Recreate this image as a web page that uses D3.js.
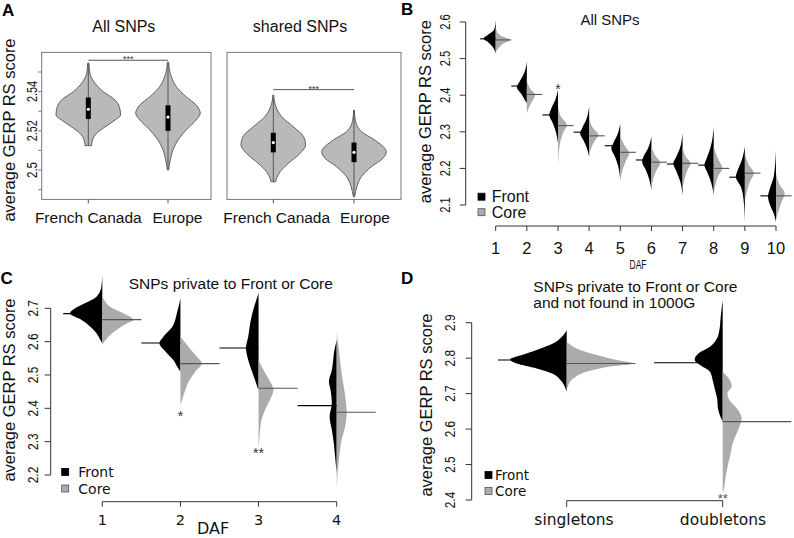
<!DOCTYPE html>
<html><head><meta charset="utf-8">
<script src="https://cdn.jsdelivr.net/npm/d3@7"></script>
<style>body{margin:0;background:#fff}svg{display:block}</style>
</head><body>
<script>
// ===================== DATA =====================
// Panel A : violin plots
const aGroups = ["French Canada", "Europe"];
const aTitles = ["All SNPs", "shared SNPs"];
// profiles: [GERP value, relative density]
const aAllProfiles = [
  [[2.5545,0.02],[2.5493,0.05],[2.5442,0.21],[2.540,0.46],[2.5357,0.83],[2.5323,0.96],[2.528,1.0],[2.5255,0.83],[2.522,0.52],[2.5187,0.26],[2.5153,0.13],[2.5124,0.10]],
  [[2.555,0.02],[2.5493,0.07],[2.5425,0.26],[2.5374,0.56],[2.5332,0.87],[2.5289,1.0],[2.5255,0.87],[2.5204,0.56],[2.5153,0.31],[2.5102,0.15],[2.5051,0.07],[2.500,0.02]]
];
const aSharedProfiles = [
  [[2.5383,0.01],[2.534,0.05],[2.5272,0.26],[2.5221,0.62],[2.517,0.94],[2.5128,1.0],[2.5085,0.83],[2.5034,0.47],[2.4991,0.21],[2.4957,0.10],[2.494,0.07]],
  [[2.5306,0.01],[2.5255,0.04],[2.5196,0.23],[2.5153,0.64],[2.5111,0.95],[2.5094,1.0],[2.506,0.9],[2.5017,0.54],[2.4966,0.23],[2.4915,0.09],[2.4864,0.02]]
];
const aAllQ1 = [2.526, 2.520], aAllMedian = [2.531, 2.527], aAllQ3 = [2.537, 2.533];
const aSharedQ1 = [2.509, 2.504], aSharedMedian = [2.514, 2.509], aSharedQ3 = [2.519, 2.514];
const aSigLevel = [2.556, 2.541];
const aSigLabel = "***";
const aYTicks = [2.49, 2.50, 2.51, 2.52, 2.53, 2.54, 2.55];
const aYTickLabels = [2.50, 2.52, 2.54];

// Panel B : bean plots by DAF (all SNPs)
const bDAF = [1,2,3,4,5,6,7,8,9,10];
const bFrontMean = [2.554, 2.425, 2.346, 2.299, 2.262, 2.223, 2.212, 2.209, 2.176, 2.125];
const bCoreMean  = [2.551, 2.402, 2.317, 2.289, 2.244, 2.217, 2.214, 2.200, 2.187, 2.125];
const bFrontProfiles = [
  [[2.605,0],[2.578,0.12],[2.564,0.58],[2.555,0.86],[2.546,0.56],[2.533,0.23],[2.514,0]],
  [[2.492,0],[2.46,0.19],[2.437,0.51],[2.422,0.70],[2.405,0.42],[2.387,0.14],[2.378,0]],
  [[2.414,0],[2.387,0.19],[2.364,0.47],[2.346,0.61],[2.323,0.35],[2.296,0.12],[2.269,0]],
  [[2.369,0],[2.332,0.21],[2.310,0.49],[2.296,0.63],[2.278,0.42],[2.259,0.19],[2.232,0]],
  [[2.323,0],[2.291,0.21],[2.269,0.49],[2.255,0.63],[2.232,0.37],[2.205,0.14],[2.168,0]],
  [[2.287,0],[2.255,0.23],[2.232,0.56],[2.218,0.65],[2.196,0.40],[2.168,0.14],[2.141,0]],
  [[2.296,0],[2.250,0.23],[2.228,0.49],[2.214,0.65],[2.191,0.42],[2.164,0.16],[2.127,0]],
  [[2.314,0],[2.259,0.21],[2.228,0.49],[2.209,0.65],[2.187,0.42],[2.159,0.16],[2.127,0]],
  [[2.259,0],[2.223,0.21],[2.196,0.49],[2.177,0.63],[2.150,0.28],[2.114,0.09],[2.054,0]],
  [[2.250,0],[2.177,0.16],[2.146,0.42],[2.123,0.56],[2.100,0.42],[2.077,0.16],[2.054,0]]
];
const bCoreProfiles = [
  [[2.583,0],[2.564,0.30],[2.551,1.0],[2.542,0.56],[2.528,0.19],[2.519,0]],
  [[2.442,0],[2.419,0.21],[2.401,0.58],[2.382,0.35],[2.364,0.12],[2.351,0]],
  [[2.369,0],[2.341,0.21],[2.319,0.61],[2.296,0.35],[2.269,0.14],[2.205,0]],
  [[2.341,0],[2.314,0.21],[2.291,0.65],[2.273,0.35],[2.255,0.14],[2.237,0]],
  [[2.287,0],[2.264,0.28],[2.241,0.63],[2.223,0.42],[2.196,0.16],[2.164,0]],
  [[2.259,0],[2.237,0.23],[2.214,0.61],[2.196,0.37],[2.173,0.14],[2.150,0]],
  [[2.259,0],[2.232,0.23],[2.214,0.56],[2.196,0.35],[2.168,0.12],[2.146,0]],
  [[2.259,0],[2.228,0.28],[2.200,0.61],[2.182,0.35],[2.155,0.12],[2.132,0]],
  [[2.241,0],[2.209,0.28],[2.187,0.63],[2.164,0.35],[2.136,0.14],[2.114,0]],
  [[2.187,0],[2.159,0.21],[2.132,0.61],[2.105,0.35],[2.077,0.12],[2.059,0]]
];
const bSig = ["", "", "*", "", "", "", "", "", "", ""];
const bSigLevel = 2.425;
const bYTicks = [2.1, 2.2, 2.3, 2.4, 2.5, 2.6];

// Panel C : SNPs private to Front or Core
const cDAF = [1,2,3,4];
const cFrontMean = [2.684, 2.596, 2.581, 2.408];
const cCoreMean  = [2.666, 2.534, 2.460, 2.388];
const cFrontProfiles = [
  [[2.80,0],[2.765,0.03],[2.735,0.18],[2.715,0.54],[2.70,0.84],[2.685,1.0],[2.665,0.64],[2.645,0.37],[2.625,0.18],[2.605,0.06],[2.595,0]],
  [[2.73,0],[2.685,0.11],[2.645,0.25],[2.615,0.53],[2.595,0.65],[2.57,0.46],[2.545,0.22],[2.52,0.07],[2.51,0]],
  [[2.746,0],[2.70,0.15],[2.665,0.24],[2.615,0.32],[2.581,0.39],[2.545,0.32],[2.515,0.22],[2.485,0.11],[2.465,0.04],[2.455,0]],
  [[2.605,0],[2.575,0.07],[2.515,0.15],[2.48,0.24],[2.455,0.19],[2.415,0.15],[2.375,0.22],[2.335,0.15],[2.295,0.09],[2.255,0.05],[2.206,0]]
];
const cCoreProfiles = [
  [[2.74,0],[2.725,0.06],[2.705,0.24],[2.685,0.65],[2.665,0.96],[2.655,0.77],[2.635,0.44],[2.615,0.19],[2.60,0.06],[2.59,0]],
  [[2.615,0],[2.585,0.25],[2.56,0.46],[2.535,0.66],[2.51,0.46],[2.485,0.28],[2.455,0.15],[2.425,0.05],[2.41,0]],
  [[2.545,0],[2.515,0.15],[2.485,0.33],[2.455,0.46],[2.425,0.35],[2.395,0.20],[2.365,0.09],[2.326,0.04],[2.296,0.015],[2.275,0]],
  [[2.626,0],[2.566,0.08],[2.506,0.15],[2.446,0.25],[2.386,0.31],[2.345,0.26],[2.305,0.15],[2.265,0.09],[2.164,0]]
];
const cSig = ["", "*", "**", ""];
const cSigLevel = [null, 2.386, 2.275, null];
const cYTicks = [2.2, 2.3, 2.4, 2.5, 2.6, 2.7];

// Panel D : private and not in 1000G
const dCats = ["singletons", "doubletons"];
const dFrontMean = [2.795, 2.787];
const dCoreMean  = [2.785, 2.621];
const dFrontProfiles = [
  [[2.879,0],[2.86,0.075],[2.842,0.2],[2.823,0.45],[2.809,0.67],[2.797,0.85],[2.785,0.75],[2.771,0.45],[2.757,0.22],[2.738,0.09],[2.72,0.03],[2.705,0]],
  [[2.964,0],[2.917,0.03],[2.879,0.05],[2.851,0.10],[2.832,0.19],[2.814,0.36],[2.795,0.42],[2.781,0.34],[2.762,0.19],[2.738,0.15],[2.71,0.115],[2.682,0.08],[2.663,0.075],[2.64,0.045],[2.621,0]]
];
const dCoreProfiles = [
  [[2.846,0],[2.823,0.2],[2.809,0.45],[2.795,0.75],[2.785,1.0],[2.776,0.64],[2.762,0.3],[2.743,0.1],[2.724,0.025],[2.71,0]],
  [[2.762,0],[2.738,0.11],[2.72,0.135],[2.701,0.07],[2.682,0.10],[2.659,0.21],[2.631,0.285],[2.617,0.27],[2.588,0.21],[2.56,0.15],[2.532,0.12],[2.504,0.085],[2.466,0.045],[2.428,0.015],[2.419,0]]
];
const dSig = ["", "**"];
const dSigLevel = 2.414;
const dYTicks = [2.4, 2.5, 2.6, 2.7, 2.8, 2.9];

const legendLabels = ["Front", "Core"];
const yTitle = "average GERP RS score";

// ===================== DRAWING =====================
const svg = d3.select("body").append("svg").attr("width", 794).attr("height", 538);
const SANS = "'Liberation Sans', Arial, Helvetica, sans-serif";
const DJ = "'DejaVu Sans', sans-serif";
const FRONT = "#000", CORE = "#ababab", CORELINE = "#555", AXIS = "#333";

function text(x, y, s, o = {}) {
  const t = svg.append("text").attr("x", x).attr("y", y).text(s)
    .attr("font-family", o.font || SANS).attr("font-size", o.size || 14)
    .attr("fill", o.fill || "#111").attr("text-anchor", o.anchor || "middle");
  if (o.weight) t.attr("font-weight", o.weight);
  if (o.len) t.attr("textLength", o.len).attr("lengthAdjust", "spacingAndGlyphs");
  return t;
}
function vtext(x, y, s, o = {}) {
  return text(0, 0, s, o).attr("transform", `translate(${x},${y}) rotate(-90)`);
}
function line(x1, y1, x2, y2, c = AXIS, w = 1) {
  svg.append("line").attr("x1", x1).attr("y1", y1).attr("x2", x2).attr("y2", y2)
    .attr("stroke", c).attr("stroke-width", w);
}
function yAxis(x, yS, ticks, labels, labelX, o) {
  line(x, yS(d3.min(ticks)), x, yS(d3.max(ticks)));
  ticks.forEach(v => line(x - 6, yS(v), x, yS(v)));
  labels.forEach(v => vtext(labelX, yS(v), String(+v.toFixed(2)), o));
}
function xAxis(y, xS, ticks, tickLen = 6) {
  line(xS(ticks[0]), y, xS(ticks[ticks.length - 1]), y);
  ticks.forEach(v => line(xS(v), y, xS(v), y + tickLen));
}
function halfBean(xc, side, prof, yS, wS, fill) {
  const area = d3.area().curve(d3.curveMonotoneY)
    .y(d => yS(d[0])).x0(xc).x1(d => xc + side * wS(d[1]));
  svg.append("path").datum(prof).attr("d", area).attr("fill", fill).attr("stroke", "none");
}
function legend(x, y0, dy, tx, size, font) {
  legendLabels.forEach((l, i) => {
    svg.append("rect").attr("x", x).attr("y", y0 + i * dy - 3.5).attr("width", 7).attr("height", 7)
      .attr("fill", i === 0 ? FRONT : CORE).attr("stroke", i === 0 ? "#000" : "#555").attr("stroke-width", 0.8);
    text(tx, y0 + i * dy + size * 0.36, l, { anchor: "start", size: size, font: font });
  });
}

// ---------- Panel A ----------
text(2, 16, "A", { anchor: "start", size: 17, weight: "bold", fill: "#000" });
const yA = d3.scaleLinear().domain([2.485, 2.56]).range([199.4, 52.4]);
const wA = d3.scaleLinear().domain([0, 1]).range([0, 32.3]);
const aPanels = [
  { title: aTitles[0], prof: aAllProfiles, q1: aAllQ1, med: aAllMedian, q3: aAllQ3, sig: aSigLevel[0], left: 41.7, right: 211, range: [88.3, 168], titleX: 123.8, lab: [88.3, 177.5] },
  { title: aTitles[1], prof: aSharedProfiles, q1: aSharedQ1, med: aSharedMedian, q3: aSharedQ3, sig: aSigLevel[1], left: 227, right: 401, range: [273.3, 354], titleX: 300, lab: [276.7, 365] }
];
aPanels.forEach(p => {
  const xS = d3.scalePoint().domain(aGroups).range(p.range);
  svg.append("rect").attr("x", p.left).attr("y", yA(2.56)).attr("width", p.right - p.left)
    .attr("height", yA(2.485) - yA(2.56)).attr("fill", "none").attr("stroke", "#777").attr("stroke-width", 1);
  text(p.titleX, 32, p.title, { size: 16 });
  aGroups.forEach((g, i) => {
    const cx = xS(g);
    const prof = p.prof[i];
    const area = d3.area().curve(d3.curveMonotoneY).y(d => yA(d[0]))
      .x0(d => cx - wA(d[1])).x1(d => cx + wA(d[1]));
    svg.append("path").datum(prof).attr("d", area).attr("fill", "#b9b9b9")
      .attr("stroke", "#555").attr("stroke-width", 0.9);
    line(cx, yA(prof[0][0]), cx, yA(prof[prof.length - 1][0]), "#555", 1);
    svg.append("rect").attr("x", cx - 2.5).attr("y", yA(p.q3[i])).attr("width", 5)
      .attr("height", yA(p.q1[i]) - yA(p.q3[i])).attr("fill", "#000");
    svg.append("circle").attr("cx", cx).attr("cy", yA(p.med[i])).attr("r", 1.6).attr("fill", "#fff");
    line(cx, yA(2.485), cx, yA(2.485) + 4, "#555");
    text(p.lab[i], 222.7, g, { size: 15.5 });
  });
  line(xS(aGroups[0]), yA(p.sig), xS(aGroups[1]), yA(p.sig), "#555", 1);
  text((xS(aGroups[0]) + xS(aGroups[1])) / 2, yA(p.sig) + 2, aSigLabel, { size: 9, fill: "#333" });
});
// y axis of A (left frame)
aYTicks.forEach(v => line(38.3, yA(v), 41.7, yA(v), "#777"));
aYTickLabels.forEach(v => vtext(36.5, yA(v), String(+v.toFixed(2)), { size: 14, len: v === 2.5 ? 16 : 21 }));
vtext(14.5, 130, yTitle, { size: 16.5 });

// ---------- Panel B ----------
text(401, 15, "B", { anchor: "start", size: 17, weight: "bold", fill: "#000" });
const xB = d3.scaleLinear().domain([1, 10]).range([495.7, 776]);
const yB = d3.scaleLinear().domain([2.1, 2.6]).range([205, 22]);
const wB = d3.scaleLinear().domain([0, 1]).range([0, 14.3]);
text(610, 25, "All SNPs", { size: 15 });
bDAF.forEach((k, i) => {
  halfBean(xB(k), -1, bFrontProfiles[i], yB, wB, FRONT);
  halfBean(xB(k), 1, bCoreProfiles[i], yB, wB, CORE);
});
bDAF.forEach((k, i) => {
  line(xB(k - 0.5), yB(bFrontMean[i]), xB(k), yB(bFrontMean[i]), FRONT, 1.1);
  line(xB(k), yB(bCoreMean[i]), xB(k + 0.5), yB(bCoreMean[i]), CORELINE, 1.1);
  if (bSig[i]) text(xB(k), yB(bSigLevel) + 8, bSig[i], { size: 14, fill: "#333" });
});
yAxis(465.7, yB, bYTicks, bYTicks, 450, { size: 15, len: 15.5 });
vtext(431, 111.7, yTitle, { size: 16.5 });
xAxis(226, xB, bDAF, 5);
bDAF.forEach(k => text(xB(k), 254, String(k), { size: 16.5 }));
text(638, 268.5, "DAF", { size: 12, len: 17 });
legend(478, 196.7, 15.5, 491.7, 16, SANS);

// ---------- Panel C ----------
text(0.5, 283.5, "C", { anchor: "start", size: 17, weight: "bold", fill: "#000" });
const xC = d3.scaleLinear().domain([1, 4]).range([102.3, 336.7]);
const yC = d3.scaleLinear().domain([2.2, 2.7]).range([475, 308.3]);
const wC = d3.scaleLinear().domain([0, 1]).range([0, 32.3]);
text(230.8, 288.5, "SNPs private to Front or Core", { size: 15.5 });
cDAF.forEach((k, i) => {
  halfBean(xC(k), -1, cFrontProfiles[i], yC, wC, FRONT);
  halfBean(xC(k), 1, cCoreProfiles[i], yC, wC, CORE);
});
cDAF.forEach((k, i) => {
  line(xC(k - 0.5), yC(cFrontMean[i]), xC(k), yC(cFrontMean[i]), FRONT, 1.1);
  line(xC(k), yC(cCoreMean[i]), xC(k + 0.5), yC(cCoreMean[i]), CORELINE, 1.1);
  if (cSig[i]) text(xC(k), yC(cSigLevel[i]) + 8, cSig[i], { size: 14, fill: "#333" });
});
yAxis(50.7, yC, cYTicks, cYTicks, 38.3, { size: 14, len: 16.5 });
vtext(15, 390, yTitle, { size: 16.5 });
xAxis(501.7, xC, cDAF, 5);
cDAF.forEach(k => text(xC(k), 525, String(k), { size: 14.5, font: DJ }));
text(213, 534, "DAF", { size: 16, font: DJ });
legend(61.7, 472, 16.5, 78.3, 14, DJ);

// ---------- Panel D ----------
text(401, 283.5, "D", { anchor: "start", size: 17, weight: "bold", fill: "#000" });
const xD = d3.scalePoint().domain(dCats).range([566.7, 722.7]);
const dStep = 156;
const yD = d3.scaleLinear().domain([2.4, 2.9]).range([500, 322.7]);
const wD = d3.scaleLinear().domain([0, 1]).range([0, 66.7]);
text(533.3, 291.7, "SNPs private to Front or Core", { size: 15.5, anchor: "start" });
text(533.3, 308.3, "and not found in 1000G", { size: 15.5, anchor: "start" });
dCats.forEach((c, i) => {
  halfBean(xD(c), -1, dFrontProfiles[i], yD, wD, FRONT);
  halfBean(xD(c), 1, dCoreProfiles[i], yD, wD, CORE);
});
dCats.forEach((c, i) => {
  line(xD(c) - 0.44 * dStep, yD(dFrontMean[i]), xD(c), yD(dFrontMean[i]), FRONT, 1.1);
  line(xD(c), yD(dCoreMean[i]), xD(c) + 0.44 * dStep, yD(dCoreMean[i]), CORELINE, 1.1);
  if (dSig[i]) text(xD(c), yD(dSigLevel) + 8, dSig[i], { size: 13, fill: "#555" });
});
yAxis(471.7, yD, dYTicks, dYTicks, 455, { size: 15, len: 16.5 });
vtext(432, 405, yTitle, { size: 16.5 });
line(xD(dCats[0]), 500.7, xD(dCats[1]), 500.7);
dCats.forEach(c => line(xD(c), 500.7, xD(c), 507));
text(574, 525, dCats[0], { size: 15.5, font: DJ });
text(723, 525, dCats[1], { size: 15.5, font: DJ });
legend(485, 475, 16, 495, 13.5, DJ);
</script>
</body></html>
